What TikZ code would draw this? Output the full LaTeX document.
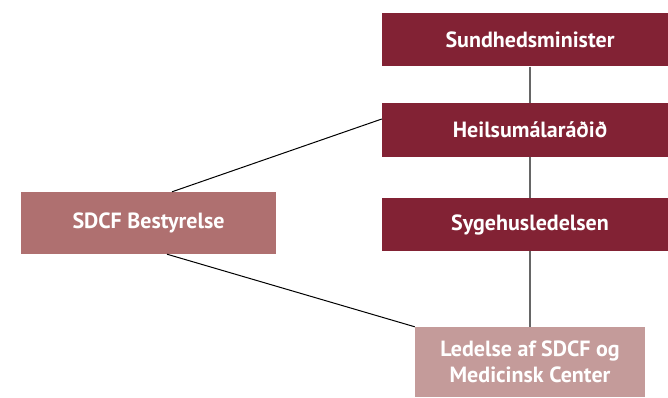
\documentclass[tikz,border=0pt]{standalone}
\usepackage{fontspec}
\setmainfont{PT Sans}
\usetikzlibrary{positioning}
\definecolor{darkred}{HTML}{822234}
\definecolor{midred}{HTML}{AF7070}
\definecolor{lightred}{HTML}{C49B9A}
\definecolor{linegray}{HTML}{666666}
\tikzset{
  box/.style={fill=#1,text=white,font=\fontsize{22}{26}\selectfont\bfseries,inner sep=0pt,align=center},
  topbox/.style={box=darkred,minimum width=296pt,minimum height=53pt},
}

\begin{document}
\begin{tikzpicture}[x=1pt,y=-1pt]
        \clip (0,0) rectangle (668,398);
        \node[topbox] (minister) at (530,40) {Sundhedsminister};
        \node[topbox] (heil) at (530,130) {Heilsumálaráðið};
        \node[topbox] (syg) at (530,224.5) {Sygehusledelsen};
        \node[box=midred,minimum width=255pt,minimum height=62pt] (sdcf) at (148.5,223) {SDCF Bestyrelse};
        \node[box=lightred,minimum width=230pt,minimum height=70pt] (ledelse) at (530,362) {Ledelse af SDCF og\\Medicinsk Center};

        \draw[linegray,line width=1.2pt] (minister) -- (heil);
        \draw[linegray,line width=1.2pt] (heil) -- (syg);
        \draw[linegray,line width=1.2pt] (syg) -- (ledelse);
        \draw[line width=1pt] ([xshift=23.5pt]sdcf.north) -- ([yshift=11pt]heil.west);
        \draw[line width=1pt] ([xshift=18.5pt]sdcf.south) -- (ledelse.north west);
      \end{tikzpicture}
\end{document}
